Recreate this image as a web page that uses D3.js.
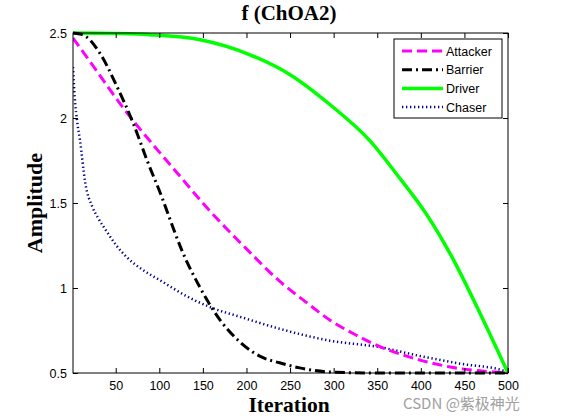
<!DOCTYPE html>
<html>
<head>
<meta charset="utf-8">
<script src="https://cdn.jsdelivr.net/npm/d3@7"></script>
<style>
    body { margin: 0; background: #fff; }
    svg { display: block; }
</style>
</head>
<body>
<div id="chart"></div>
<script>
// values: [iteration, amplitude]
const attacker = [[1, 2.47], [25, 2.30], [47, 2.14], [63, 2.03], [90, 1.86], [120, 1.68], [155, 1.47],
    [200, 1.23], [238, 1.04], [270, 0.91], [296, 0.81], [325, 0.725], [353, 0.655], [380, 0.605],
    [399, 0.576], [420, 0.55], [437, 0.532], [470, 0.512], [500, 0.5]];
const barrier = [[1, 2.5], [12, 2.49], [32, 2.38], [51, 2.19], [70, 1.97], [86, 1.75], [104, 1.52],
    [109, 1.45], [126, 1.22], [147, 1.0], [170, 0.81], [193, 0.68], [219, 0.59], [238, 0.56],
    [261, 0.53], [299, 0.505], [350, 0.5], [500, 0.5]];
const driver = [[1, 2.5], [50, 2.497], [89, 2.49], [147, 2.46], [204, 2.372], [250, 2.255], [296, 2.078],
    [342, 1.864], [373, 1.665], [407, 1.43], [437, 1.17], [468, 0.85], [500, 0.5]];
const chaser = [[1, 2.3], [3, 2.12], [6, 1.97], [9, 1.87], [15, 1.62], [23, 1.48], [30, 1.41], [40, 1.33],
    [50, 1.255], [63, 1.18], [80, 1.11], [101, 1.045], [132, 0.95], [162, 0.88], [193, 0.83],
    [238, 0.76], [296, 0.69], [353, 0.652], [399, 0.6], [445, 0.555], [494, 0.515], [500, 0.5]];

const xTicks = [50, 100, 150, 200, 250, 300, 350, 400, 450, 500];
const yTicks = [0.5, 1, 1.5, 2, 2.5];
const seriesNames = ["Attacker", "Barrier", "Driver", "Chaser"];

const width = 561, height = 420;
const box = { left: 73, right: 508, top: 33, bottom: 373 };

const svg = d3.select("#chart").append("svg")
    .attr("width", width)
    .attr("height", height);

const x = d3.scaleLinear().domain([1, 500]).range([box.left, box.right]);
const y = d3.scaleLinear().domain([0.5, 2.5]).range([box.bottom, box.top]);

const styles = {
    "Attacker": { color: "#ff00ff", width: 3, dash: "10,5" },
    "Barrier": { color: "#000000", width: 3, dash: "10,4,2,4" },
    "Driver": { color: "#00ff00", width: 3.5, dash: null },
    "Chaser": { color: "#00008b", width: 2.5, dash: "1.3,2.7" }
};
const data = { "Attacker": attacker, "Barrier": barrier, "Driver": driver, "Chaser": chaser };

const line = d3.line()
    .x(d => x(d[0]))
    .y(d => y(d[1]))
    .curve(d3.curveMonotoneX);

svg.append("defs").append("clipPath").attr("id", "plot")
    .append("rect")
    .attr("x", box.left).attr("y", box.top - 2)
    .attr("width", box.right - box.left).attr("height", box.bottom - box.top + 4);

const plot = svg.append("g").attr("clip-path", "url(#plot)");

// draw order as in the reference: chaser under the others
["Chaser", "Driver", "Attacker", "Barrier"].forEach(name => {
    const s = styles[name];
    plot.append("path")
        .datum(data[name])
        .attr("d", line)
        .attr("fill", "none")
        .attr("stroke", s.color)
        .attr("stroke-width", s.width)
        .attr("stroke-dasharray", s.dash);
});

// axes, MATLAB style with inward ticks
const tickFont = "Arial, 'Liberation Sans', sans-serif";

const xAxis = svg.append("g")
    .attr("transform", `translate(0,${box.bottom})`)
    .call(d3.axisBottom(x).tickValues(xTicks).tickSize(-5).tickPadding(8).tickSizeOuter(0));
const xAxisTop = svg.append("g")
    .attr("transform", `translate(0,${box.top})`)
    .call(d3.axisTop(x).tickValues(xTicks).tickSize(-5).tickFormat("").tickSizeOuter(0));
const yAxis = svg.append("g")
    .attr("transform", `translate(${box.left},0)`)
    .call(d3.axisLeft(y).tickValues(yTicks).tickFormat(d3.format("~g")).tickSize(-5).tickPadding(6).tickSizeOuter(0));
const yAxisRight = svg.append("g")
    .attr("transform", `translate(${box.right},0)`)
    .call(d3.axisRight(y).tickValues(yTicks).tickSize(-5).tickFormat("").tickSizeOuter(0));

[xAxis, xAxisTop, yAxis, yAxisRight].forEach(g => {
    g.select(".domain").remove();
    g.selectAll("line").attr("stroke", "#000");
    g.selectAll("text")
        .attr("fill", "#000")
        .style("font-family", tickFont)
        .style("font-size", "12.5px");
});

svg.append("rect")
    .attr("x", box.left).attr("y", box.top)
    .attr("width", box.right - box.left).attr("height", box.bottom - box.top)
    .attr("fill", "none")
    .attr("stroke", "#000")
    .attr("stroke-width", 1);

// titles
const serif = "'Liberation Serif', 'Times New Roman', serif";
svg.append("text")
    .attr("x", 289).attr("y", 20)
    .attr("text-anchor", "middle")
    .style("font-family", serif).style("font-weight", "bold").style("font-size", "21px")
    .text("f (ChOA2)");

svg.append("text")
    .attr("x", 289).attr("y", 412)
    .attr("text-anchor", "middle")
    .style("font-family", serif).style("font-weight", "bold").style("font-size", "21.5px")
    .text("Iteration");

svg.append("text")
    .attr("transform", `translate(42,${(box.top + box.bottom) / 2}) rotate(-90)`)
    .attr("text-anchor", "middle")
    .style("font-family", serif).style("font-weight", "bold").style("font-size", "22px")
    .text("Amplitude");

// legend
const legend = svg.append("g");
legend.append("rect")
    .attr("x", 394).attr("y", 39)
    .attr("width", 108).attr("height", 79)
    .attr("fill", "#fff")
    .attr("stroke", "#000");

seriesNames.forEach((name, i) => {
    const s = styles[name];
    const ly = 51 + i * 18.7;
    legend.append("line")
        .attr("x1", 402).attr("x2", 443)
        .attr("y1", ly).attr("y2", ly)
        .attr("stroke", s.color)
        .attr("stroke-width", s.width)
        .attr("stroke-dasharray", s.dash);
    legend.append("text")
        .attr("x", 446).attr("y", ly + 4.5)
        .style("font-family", tickFont).style("font-size", "12.5px")
        .text(name);
});

// watermark
svg.append("text")
    .attr("x", 403).attr("y", 409)
    .attr("fill", "#a0a0a0")
    .style("font-family", "'Noto Sans CJK SC', sans-serif")
    .style("font-size", "15px")
    .text("CSDN @紫极神光");
</script>
</body>
</html>
